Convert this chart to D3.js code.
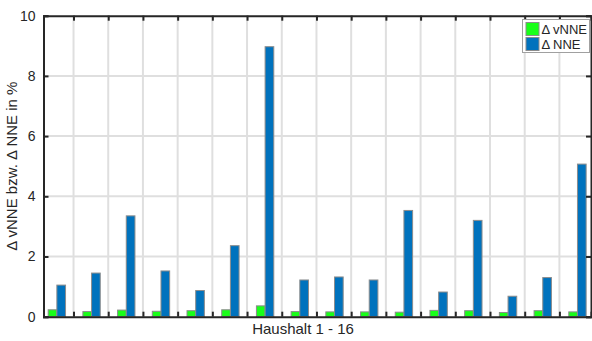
<!DOCTYPE html>
<html>
<head>
<meta charset="utf-8">
<script src="https://cdn.jsdelivr.net/npm/d3@7"></script>
<style>
  body { margin: 0; background: #fff; }
  text { font-family: "Liberation Sans", Arial, sans-serif; fill: #262626; }
</style>
</head>
<body>
<div id="chart"></div>
<script>
var households = d3.range(1, 17);
var vNNE = [0.23, 0.17, 0.22, 0.18, 0.2, 0.23, 0.36, 0.17, 0.16, 0.16, 0.15, 0.21, 0.2, 0.14, 0.2, 0.16];
var NNE  = [1.05, 1.45, 3.35, 1.52, 0.87, 2.36, 8.97, 1.22, 1.32, 1.22, 3.53, 0.82, 3.2, 0.68, 1.3, 5.07];
var yTicks = [0, 2, 4, 6, 8, 10];
var legendLabels = ["\u0394 vNNE", "\u0394 NNE"];
var colors = ["#19ff19", "#0072bd"];

var W = 592, H = 341;
var plotL = 43.5, plotR = 591, plotT = 15.7, plotB = 316.7;

var svg = d3.select("#chart").append("svg")
  .attr("width", W).attr("height", H);

var x = d3.scaleLinear().domain([0.635, 16.41]).range([plotL, plotR]);
var y = d3.scaleLinear().domain([0, 10]).range([plotB, plotT]);

var sepTicks = households.slice(0, 15).map(function(d) { return d + 0.5; });

// grid
svg.append("g").selectAll("line")
  .data(sepTicks).enter().append("line")
  .attr("x1", function(d) { return x(d); }).attr("x2", function(d) { return x(d); })
  .attr("y1", plotT).attr("y2", plotB)
  .attr("stroke", "#dfdfdf").attr("stroke-width", 2);

svg.append("g").selectAll("line")
  .data(yTicks.slice(1, 5)).enter().append("line")
  .attr("x1", plotL).attr("x2", plotR)
  .attr("y1", function(d) { return y(d); }).attr("y2", function(d) { return y(d); })
  .attr("stroke", "#dfdfdf").attr("stroke-width", 2);

// bars
var bw = 0.25;
svg.append("g").selectAll("rect")
  .data(households).enter().append("rect")
  .attr("x", function(d) { return x(d - bw + 0.02); })
  .attr("width", x(bw) - x(0))
  .attr("y", function(d, i) { return y(vNNE[i]); })
  .attr("height", function(d, i) { return y(0) - y(vNNE[i]); })
  .attr("fill", colors[0]).attr("stroke", "#8c8c8c").attr("stroke-width", 1);

svg.append("g").selectAll("rect")
  .data(households).enter().append("rect")
  .attr("x", function(d) { return x(d + 0.02); })
  .attr("width", x(bw) - x(0))
  .attr("y", function(d, i) { return y(NNE[i]); })
  .attr("height", function(d, i) { return y(0) - y(NNE[i]); })
  .attr("fill", colors[1]).attr("stroke", "#8c8c8c").attr("stroke-width", 1);

// axes (box with inward ticks)
var axisColor = "#262626";
var yAxisL = d3.axisLeft(y).tickValues(yTicks).tickSize(-5).tickPadding(8);
var gL = svg.append("g").attr("transform", "translate(" + plotL + ",0)").call(yAxisL);
gL.selectAll("text").style("font-size", "14px").attr("fill", axisColor);

var yAxisR = d3.axisRight(y).tickValues(yTicks).tickSize(-5).tickFormat("");
svg.append("g").attr("transform", "translate(" + plotR + ",0)").call(yAxisR);

var xAxisB = d3.axisBottom(x).tickValues(sepTicks).tickSize(-5).tickFormat("");
svg.append("g").attr("transform", "translate(0," + plotB + ")").call(xAxisB);

var xAxisT = d3.axisTop(x).tickValues(sepTicks).tickSize(-5).tickFormat("");
svg.append("g").attr("transform", "translate(0," + plotT + ")").call(xAxisT);

svg.selectAll(".domain").attr("stroke", axisColor).attr("stroke-width", 2);
svg.selectAll(".tick line").attr("stroke", axisColor).attr("stroke-width", 2);

// labels
svg.append("text")
  .attr("x", 303).attr("y", 334)
  .attr("text-anchor", "middle")
  .style("font-size", "15px")
  .text("Haushalt 1 - 16");

svg.append("text")
  .attr("transform", "translate(16.5," + ((plotT + plotB) / 2) + ") rotate(-90)")
  .attr("text-anchor", "middle")
  .style("font-size", "15px")
  .text("\u0394 vNNE bzw. \u0394 NNE in %");

// legend
var lg = svg.append("g").attr("transform", "translate(522.5,19.5)");
lg.append("rect").attr("width", 67).attr("height", 33)
  .attr("fill", "#fff").attr("stroke", "#a0a0a0").attr("stroke-width", 1);
legendLabels.forEach(function(l, i) {
  lg.append("rect").attr("x", 3.5).attr("y", 3 + i * 15).attr("width", 13).attr("height", 13)
    .attr("fill", colors[i]).attr("stroke", "#8c8c8c").attr("stroke-width", 1);
  lg.append("text").attr("x", 19).attr("y", 14 + i * 15)
    .style("font-size", "13px").text(l);
});
</script>
</body>
</html>
